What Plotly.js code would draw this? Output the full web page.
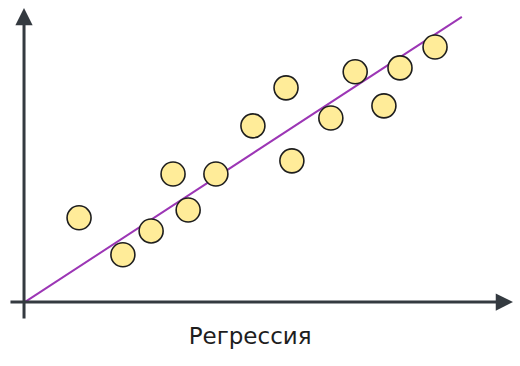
<!DOCTYPE html>
<html>
<head>
<meta charset="utf-8">
<script src="https://cdn.plot.ly/plotly-3.0.1.min.js"></script>
<style>html,body{margin:0;padding:0;background:#fff;}#chart{width:520px;height:366px;}</style>
</head>
<body>
<div id="chart"></div>
<script>
// Scatter points
const pointX = [1.11, 2.01, 2.59, 3.04, 3.35, 3.92, 4.68, 5.36, 5.48, 6.28, 6.78, 7.37, 7.70, 8.42];
const pointY = [1.73, 0.97, 1.46, 2.63, 1.89, 2.63, 3.62, 4.40, 2.90, 3.78, 4.73, 4.03, 4.81, 5.24];
// Regression line end points
const lineX = [0, 8.97];
const lineY = [0, 5.86];
const titleText = "Регрессия";

const axisColor = "#343a40";

const traces = [
  {
    x: lineX, y: lineY, type: "scatter", mode: "lines",
    line: {color: "#9c36b5", width: 2}, hoverinfo: "skip", cliponaxis: false
  },
  {
    x: pointX, y: pointY, type: "scatter", mode: "markers",
    marker: {size: 24, color: "#ffec99", line: {color: "#1e1e1e", width: 1.6}},
    cliponaxis: false
  }
];

const layout = {
  width: 520, height: 366,
  margin: {l: 25, r: 8, t: 10, b: 64},
  paper_bgcolor: "#ffffff", plot_bgcolor: "#ffffff",
  showlegend: false,
  title: {
    text: titleText, x: 0.481, y: 0.082, xref: "container", yref: "container",
    xanchor: "center", yanchor: "middle",
    font: {family: "DejaVu Sans, sans-serif", size: 23, color: "#1e1e1e"}
  },
  xaxis: {range: [0, 10], visible: false, fixedrange: true},
  yaxis: {range: [0, 6], visible: false, fixedrange: true},
  annotations: [
    {x: 1.002, y: 0, xref: "paper", yref: "paper", ax: -504, ay: 0, axref: "pixel", ayref: "pixel",
     text: "", showarrow: true, arrowhead: 2, arrowsize: 1.15, arrowwidth: 3, arrowcolor: axisColor},
    {x: -0.002, y: 1.007, xref: "paper", yref: "paper", ax: 0, ay: 312, axref: "pixel", ayref: "pixel",
     text: "", showarrow: true, arrowhead: 2, arrowsize: 1.15, arrowwidth: 3, arrowcolor: axisColor}
  ]
};

Plotly.newPlot("chart", traces, layout, {displayModeBar: false, staticPlot: true});
</script>
</body>
</html>
